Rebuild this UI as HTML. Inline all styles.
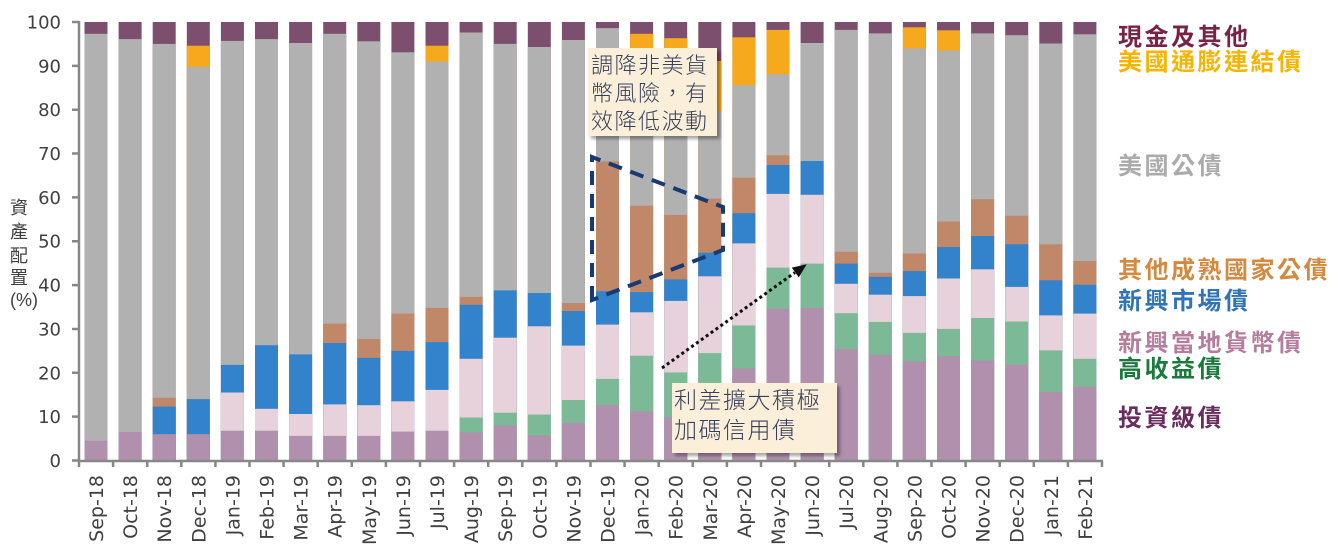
<!DOCTYPE html>
<html>
<head>
<meta charset="utf-8">
<style>
html,body{margin:0;padding:0;background:#fff;}
svg{display:block;}
.c{fill:#7d4f6f}.t{fill:#f6a91d}.u{fill:#b1b1b1}.d{fill:#c08769}.e{fill:#3283cb}.l{fill:#e7d2dc}.h{fill:#7cba97}.i{fill:#b190ad}
.tk{font-family:"DejaVu Sans","Liberation Sans",sans-serif;font-size:18px;fill:#404040;}
.xl{font-family:"DejaVu Sans","Liberation Sans",sans-serif;font-size:19px;fill:#404040;}
.lg{font-family:"Liberation Sans","Noto Sans CJK TC",sans-serif;font-size:24px;font-weight:bold;letter-spacing:2.5px;}
.an{font-family:"Liberation Sans","Noto Sans CJK TC",sans-serif;fill:#34405e;letter-spacing:1.5px;font-weight:300;}
.yt{font-family:"Liberation Sans","Noto Sans CJK TC",sans-serif;font-size:18px;fill:#404040;}
</style>
</head>
<body>
<svg width="1335" height="544" viewBox="0 0 1335 544" xmlns="http://www.w3.org/2000/svg">
<defs>
<filter id="sh" x="-10%" y="-10%" width="130%" height="140%">
<feDropShadow dx="3" dy="3" stdDeviation="1.5" flood-color="#000" flood-opacity="0.35"/>
</filter>
</defs>

<g id="bars">
<g transform="translate(84.5,0)"><rect class="c" x="0" y="22" width="23" height="438.5"/><rect class="u" x="0" y="33.8" width="23" height="426.7"/><rect class="i" x="0" y="440.8" width="23" height="19.7"/></g>
<g transform="translate(118.6,0)"><rect class="c" x="0" y="22" width="23" height="438.5"/><rect class="u" x="0" y="39.1" width="23" height="421.4"/><rect class="i" x="0" y="432.0" width="23" height="28.5"/></g>
<g transform="translate(152.7,0)"><rect class="c" x="0" y="22" width="23" height="438.5"/><rect class="u" x="0" y="43.9" width="23" height="416.6"/><rect class="d" x="0" y="397.8" width="23" height="62.7"/><rect class="e" x="0" y="406.6" width="23" height="53.9"/><rect class="i" x="0" y="434.2" width="23" height="26.3"/></g>
<g transform="translate(186.8,0)"><rect class="c" x="0" y="22" width="23" height="438.5"/><rect class="t" x="0" y="45.7" width="23" height="414.8"/><rect class="u" x="0" y="66.7" width="23" height="393.8"/><rect class="e" x="0" y="399.1" width="23" height="61.4"/><rect class="i" x="0" y="434.2" width="23" height="26.3"/></g>
<g transform="translate(220.9,0)"><rect class="c" x="0" y="22" width="23" height="438.5"/><rect class="u" x="0" y="40.9" width="23" height="419.6"/><rect class="e" x="0" y="364.9" width="23" height="95.6"/><rect class="l" x="0" y="392.5" width="23" height="68.0"/><rect class="i" x="0" y="430.7" width="23" height="29.8"/></g>
<g transform="translate(255.0,0)"><rect class="c" x="0" y="22" width="23" height="438.5"/><rect class="u" x="0" y="39.1" width="23" height="421.4"/><rect class="e" x="0" y="345.2" width="23" height="115.3"/><rect class="l" x="0" y="408.8" width="23" height="51.7"/><rect class="i" x="0" y="430.7" width="23" height="29.8"/></g>
<g transform="translate(289.1,0)"><rect class="c" x="0" y="22" width="23" height="438.5"/><rect class="u" x="0" y="43.0" width="23" height="417.5"/><rect class="e" x="0" y="354.4" width="23" height="106.1"/><rect class="l" x="0" y="414.0" width="23" height="46.5"/><rect class="i" x="0" y="435.9" width="23" height="24.6"/></g>
<g transform="translate(323.2,0)"><rect class="c" x="0" y="22" width="23" height="438.5"/><rect class="u" x="0" y="33.8" width="23" height="426.7"/><rect class="d" x="0" y="323.7" width="23" height="136.8"/><rect class="e" x="0" y="343.0" width="23" height="117.5"/><rect class="l" x="0" y="404.4" width="23" height="56.1"/><rect class="i" x="0" y="435.9" width="23" height="24.6"/></g>
<g transform="translate(357.3,0)"><rect class="c" x="0" y="22" width="23" height="438.5"/><rect class="u" x="0" y="41.3" width="23" height="419.2"/><rect class="d" x="0" y="339.0" width="23" height="121.5"/><rect class="e" x="0" y="357.9" width="23" height="102.6"/><rect class="l" x="0" y="405.2" width="23" height="55.3"/><rect class="i" x="0" y="435.9" width="23" height="24.6"/></g>
<g transform="translate(391.4,0)"><rect class="c" x="0" y="22" width="23" height="438.5"/><rect class="u" x="0" y="52.3" width="23" height="408.2"/><rect class="d" x="0" y="313.6" width="23" height="146.9"/><rect class="e" x="0" y="350.9" width="23" height="109.6"/><rect class="l" x="0" y="401.3" width="23" height="59.2"/><rect class="i" x="0" y="431.6" width="23" height="28.9"/></g>
<g transform="translate(425.5,0)"><rect class="c" x="0" y="22" width="23" height="438.5"/><rect class="t" x="0" y="45.7" width="23" height="414.8"/><rect class="u" x="0" y="61.5" width="23" height="399.0"/><rect class="d" x="0" y="307.9" width="23" height="152.6"/><rect class="e" x="0" y="342.1" width="23" height="118.4"/><rect class="l" x="0" y="389.9" width="23" height="70.6"/><rect class="i" x="0" y="430.7" width="23" height="29.8"/></g>
<g transform="translate(459.6,0)"><rect class="c" x="0" y="22" width="23" height="438.5"/><rect class="u" x="0" y="32.5" width="23" height="428.0"/><rect class="d" x="0" y="296.9" width="23" height="163.6"/><rect class="e" x="0" y="304.8" width="23" height="155.7"/><rect class="l" x="0" y="358.8" width="23" height="101.7"/><rect class="h" x="0" y="417.5" width="23" height="43.0"/><rect class="i" x="0" y="432.4" width="23" height="28.1"/></g>
<g transform="translate(493.7,0)"><rect class="c" x="0" y="22" width="23" height="438.5"/><rect class="u" x="0" y="43.9" width="23" height="416.6"/><rect class="e" x="0" y="290.4" width="23" height="170.1"/><rect class="l" x="0" y="337.7" width="23" height="122.8"/><rect class="h" x="0" y="412.7" width="23" height="47.8"/><rect class="i" x="0" y="425.4" width="23" height="35.1"/></g>
<g transform="translate(527.8,0)"><rect class="c" x="0" y="22" width="23" height="438.5"/><rect class="u" x="0" y="47.0" width="23" height="413.5"/><rect class="e" x="0" y="293.0" width="23" height="167.5"/><rect class="l" x="0" y="326.3" width="23" height="134.2"/><rect class="h" x="0" y="414.5" width="23" height="46.0"/><rect class="i" x="0" y="435.5" width="23" height="25.0"/></g>
<g transform="translate(561.9,0)"><rect class="c" x="0" y="22" width="23" height="438.5"/><rect class="u" x="0" y="40.0" width="23" height="420.5"/><rect class="d" x="0" y="303.1" width="23" height="157.4"/><rect class="e" x="0" y="311.0" width="23" height="149.5"/><rect class="l" x="0" y="345.6" width="23" height="114.9"/><rect class="h" x="0" y="400.0" width="23" height="60.5"/><rect class="i" x="0" y="422.8" width="23" height="37.7"/></g>
<g transform="translate(596.0,0)"><rect class="c" x="0" y="22" width="23" height="438.5"/><rect class="u" x="0" y="28.1" width="23" height="432.4"/><rect class="d" x="0" y="161.4" width="23" height="299.1"/><rect class="e" x="0" y="291.2" width="23" height="169.3"/><rect class="l" x="0" y="324.6" width="23" height="135.9"/><rect class="h" x="0" y="378.9" width="23" height="81.6"/><rect class="i" x="0" y="404.8" width="23" height="55.7"/></g>
<g transform="translate(630.1,0)"><rect class="c" x="0" y="22" width="23" height="438.5"/><rect class="t" x="0" y="33.8" width="23" height="426.7"/><rect class="u" x="0" y="50.5" width="23" height="410.0"/><rect class="d" x="0" y="205.7" width="23" height="254.8"/><rect class="e" x="0" y="292.1" width="23" height="168.4"/><rect class="l" x="0" y="312.3" width="23" height="148.2"/><rect class="h" x="0" y="355.7" width="23" height="104.8"/><rect class="i" x="0" y="411.4" width="23" height="49.1"/></g>
<g transform="translate(664.2,0)"><rect class="c" x="0" y="22" width="23" height="438.5"/><rect class="t" x="0" y="38.2" width="23" height="422.3"/><rect class="u" x="0" y="49.2" width="23" height="411.3"/><rect class="d" x="0" y="214.9" width="23" height="245.6"/><rect class="e" x="0" y="279.4" width="23" height="181.1"/><rect class="l" x="0" y="300.9" width="23" height="159.6"/><rect class="h" x="0" y="372.4" width="23" height="88.1"/><rect class="i" x="0" y="417.5" width="23" height="43.0"/></g>
<g transform="translate(698.3,0)"><rect class="c" x="0" y="22" width="23" height="438.5"/><rect class="t" x="0" y="61.0" width="23" height="399.5"/><rect class="u" x="0" y="111.0" width="23" height="349.5"/><rect class="d" x="0" y="198.7" width="23" height="261.8"/><rect class="e" x="0" y="252.7" width="23" height="207.8"/><rect class="l" x="0" y="276.3" width="23" height="184.2"/><rect class="h" x="0" y="353.1" width="23" height="107.4"/><rect class="i" x="0" y="399.1" width="23" height="61.4"/></g>
<g transform="translate(732.4,0)"><rect class="c" x="0" y="22" width="23" height="438.5"/><rect class="t" x="0" y="37.3" width="23" height="423.2"/><rect class="u" x="0" y="85.1" width="23" height="375.4"/><rect class="d" x="0" y="177.7" width="23" height="282.8"/><rect class="e" x="0" y="213.2" width="23" height="247.3"/><rect class="l" x="0" y="243.4" width="23" height="217.1"/><rect class="h" x="0" y="325.4" width="23" height="135.1"/><rect class="i" x="0" y="368.4" width="23" height="92.1"/></g>
<g transform="translate(766.5,0)"><rect class="c" x="0" y="22" width="23" height="438.5"/><rect class="t" x="0" y="29.9" width="23" height="430.6"/><rect class="u" x="0" y="74.2" width="23" height="386.3"/><rect class="d" x="0" y="155.3" width="23" height="305.2"/><rect class="e" x="0" y="165.0" width="23" height="295.5"/><rect class="l" x="0" y="193.9" width="23" height="266.6"/><rect class="h" x="0" y="267.6" width="23" height="192.9"/><rect class="i" x="0" y="308.8" width="23" height="151.7"/></g>
<g transform="translate(800.6,0)"><rect class="c" x="0" y="22" width="23" height="438.5"/><rect class="u" x="0" y="43.0" width="23" height="417.5"/><rect class="e" x="0" y="161.0" width="23" height="299.5"/><rect class="l" x="0" y="194.8" width="23" height="265.7"/><rect class="h" x="0" y="263.6" width="23" height="196.9"/><rect class="i" x="0" y="307.9" width="23" height="152.6"/></g>
<g transform="translate(834.7,0)"><rect class="c" x="0" y="22" width="23" height="438.5"/><rect class="u" x="0" y="29.9" width="23" height="430.6"/><rect class="d" x="0" y="251.8" width="23" height="208.7"/><rect class="e" x="0" y="263.6" width="23" height="196.9"/><rect class="l" x="0" y="283.8" width="23" height="176.7"/><rect class="h" x="0" y="313.2" width="23" height="147.3"/><rect class="i" x="0" y="349.1" width="23" height="111.4"/></g>
<g transform="translate(868.8,0)"><rect class="c" x="0" y="22" width="23" height="438.5"/><rect class="u" x="0" y="33.4" width="23" height="427.1"/><rect class="d" x="0" y="272.8" width="23" height="187.7"/><rect class="e" x="0" y="276.8" width="23" height="183.7"/><rect class="l" x="0" y="294.7" width="23" height="165.8"/><rect class="h" x="0" y="321.9" width="23" height="138.6"/><rect class="i" x="0" y="354.8" width="23" height="105.7"/></g>
<g transform="translate(902.9,0)"><rect class="c" x="0" y="22" width="23" height="438.5"/><rect class="t" x="0" y="27.3" width="23" height="433.2"/><rect class="u" x="0" y="48.3" width="23" height="412.2"/><rect class="d" x="0" y="253.5" width="23" height="207.0"/><rect class="e" x="0" y="271.1" width="23" height="189.4"/><rect class="l" x="0" y="296.1" width="23" height="164.4"/><rect class="h" x="0" y="332.9" width="23" height="127.6"/><rect class="i" x="0" y="361.4" width="23" height="99.1"/></g>
<g transform="translate(937.0,0)"><rect class="c" x="0" y="22" width="23" height="438.5"/><rect class="t" x="0" y="30.3" width="23" height="430.2"/><rect class="u" x="0" y="50.5" width="23" height="410.0"/><rect class="d" x="0" y="221.5" width="23" height="239.0"/><rect class="e" x="0" y="247.0" width="23" height="213.5"/><rect class="l" x="0" y="278.5" width="23" height="182.0"/><rect class="h" x="0" y="328.9" width="23" height="131.6"/><rect class="i" x="0" y="356.1" width="23" height="104.4"/></g>
<g transform="translate(971.1,0)"><rect class="c" x="0" y="22" width="23" height="438.5"/><rect class="u" x="0" y="33.4" width="23" height="427.1"/><rect class="d" x="0" y="199.2" width="23" height="261.3"/><rect class="e" x="0" y="236.0" width="23" height="224.5"/><rect class="l" x="0" y="269.3" width="23" height="191.2"/><rect class="h" x="0" y="318.0" width="23" height="142.5"/><rect class="i" x="0" y="360.5" width="23" height="100.0"/></g>
<g transform="translate(1005.2,0)"><rect class="c" x="0" y="22" width="23" height="438.5"/><rect class="u" x="0" y="35.2" width="23" height="425.3"/><rect class="d" x="0" y="215.8" width="23" height="244.7"/><rect class="e" x="0" y="244.3" width="23" height="216.2"/><rect class="l" x="0" y="286.9" width="23" height="173.6"/><rect class="h" x="0" y="321.5" width="23" height="139.0"/><rect class="i" x="0" y="364.5" width="23" height="96.0"/></g>
<g transform="translate(1039.3,0)"><rect class="c" x="0" y="22" width="23" height="438.5"/><rect class="u" x="0" y="43.5" width="23" height="417.0"/><rect class="d" x="0" y="244.3" width="23" height="216.2"/><rect class="e" x="0" y="280.3" width="23" height="180.2"/><rect class="l" x="0" y="315.4" width="23" height="145.1"/><rect class="h" x="0" y="350.4" width="23" height="110.1"/><rect class="i" x="0" y="391.7" width="23" height="68.8"/></g>
<g transform="translate(1073.4,0)"><rect class="c" x="0" y="22" width="23" height="438.5"/><rect class="u" x="0" y="34.3" width="23" height="426.2"/><rect class="d" x="0" y="261.0" width="23" height="199.5"/><rect class="e" x="0" y="284.7" width="23" height="175.8"/><rect class="l" x="0" y="313.6" width="23" height="146.9"/><rect class="h" x="0" y="358.8" width="23" height="101.7"/><rect class="i" x="0" y="386.8" width="23" height="73.7"/></g>
</g>

<g stroke="#878787" stroke-width="2.5" fill="none">
<line x1="79" y1="21" x2="79" y2="462"/>
<line x1="78" y1="461" x2="1103" y2="461"/>
<path d="M72 460.5H79M72 416.65H79M72 372.8H79M72 328.95H79M72 285.1H79M72 241.25H79M72 197.4H79M72 153.55H79M72 109.7H79M72 65.85H79M72 22H79"/>
<path d="M79 461V467M113.1 461V467M147.2 461V467M181.3 461V467M215.4 461V467M249.5 461V467M283.6 461V467M317.7 461V467M351.8 461V467M385.9 461V467M420 461V467M454.1 461V467M488.2 461V467M522.3 461V467M556.4 461V467M590.5 461V467M624.6 461V467M658.7 461V467M692.8 461V467M726.9 461V467M761 461V467M795.1 461V467M829.2 461V467M863.3 461V467M897.4 461V467M931.5 461V467M965.6 461V467M999.7 461V467M1033.8 461V467M1067.9 461V467M1102 461V467"/>
</g>

<g class="tk" text-anchor="end">
<text x="61" y="28.5">100</text>
<text x="61" y="72.3">90</text>
<text x="61" y="116.2">80</text>
<text x="61" y="160">70</text>
<text x="61" y="203.9">60</text>
<text x="61" y="247.7">50</text>
<text x="61" y="291.6">40</text>
<text x="61" y="335.4">30</text>
<text x="61" y="379.3">20</text>
<text x="61" y="423.1">10</text>
<text x="61" y="467">0</text>
</g>

<g class="yt" text-anchor="middle">
<text x="19" y="214">資</text>
<text x="19" y="238">產</text>
<text x="19" y="262">配</text>
<text x="19" y="284">置</text>
<text x="24" y="306">(%)</text>
</g>

<g class="xl" text-anchor="end">
<text transform="translate(103,475) rotate(-90)">Sep-18</text>
<text transform="translate(137.1,475) rotate(-90)">Oct-18</text>
<text transform="translate(171.2,475) rotate(-90)">Nov-18</text>
<text transform="translate(205.3,475) rotate(-90)">Dec-18</text>
<text transform="translate(239.4,475) rotate(-90)">Jan-19</text>
<text transform="translate(273.5,475) rotate(-90)">Feb-19</text>
<text transform="translate(307.6,475) rotate(-90)">Mar-19</text>
<text transform="translate(341.7,475) rotate(-90)">Apr-19</text>
<text transform="translate(375.8,475) rotate(-90)">May-19</text>
<text transform="translate(409.9,475) rotate(-90)">Jun-19</text>
<text transform="translate(444,475) rotate(-90)">Jul-19</text>
<text transform="translate(478.1,475) rotate(-90)">Aug-19</text>
<text transform="translate(512.2,475) rotate(-90)">Sep-19</text>
<text transform="translate(546.3,475) rotate(-90)">Oct-19</text>
<text transform="translate(580.4,475) rotate(-90)">Nov-19</text>
<text transform="translate(614.5,475) rotate(-90)">Dec-19</text>
<text transform="translate(648.6,475) rotate(-90)">Jan-20</text>
<text transform="translate(682.7,475) rotate(-90)">Feb-20</text>
<text transform="translate(716.8,475) rotate(-90)">Mar-20</text>
<text transform="translate(750.9,475) rotate(-90)">Apr-20</text>
<text transform="translate(785,475) rotate(-90)">May-20</text>
<text transform="translate(819.1,475) rotate(-90)">Jun-20</text>
<text transform="translate(853.2,475) rotate(-90)">Jul-20</text>
<text transform="translate(887.3,475) rotate(-90)">Aug-20</text>
<text transform="translate(921.4,475) rotate(-90)">Sep-20</text>
<text transform="translate(955.5,475) rotate(-90)">Oct-20</text>
<text transform="translate(989.6,475) rotate(-90)">Nov-20</text>
<text transform="translate(1023.7,475) rotate(-90)">Dec-20</text>
<text transform="translate(1057.8,475) rotate(-90)">Jan-21</text>
<text transform="translate(1091.9,475) rotate(-90)">Feb-21</text>
</g>

<path d="M592 300 L592 157 L723 207 L723 250 Z" fill="none" stroke="#173a72" stroke-width="4" stroke-dasharray="14 9"/>

<line x1="662" y1="368" x2="795" y2="272.5" stroke="#111" stroke-width="3" stroke-dasharray="3 3"/>
<polygon points="806.7,264.3 798.8,277.4 791.8,267.6" fill="#111"/>

<rect x="588" y="48" width="129" height="88" fill="#fcefd9" filter="url(#sh)"/>
<g class="an" font-size="22">
<text x="591" y="73">調降非美貨</text>
<text x="591" y="101">幣風險，有</text>
<text x="591" y="129">效降低波動</text>
</g>

<rect x="672" y="383" width="165" height="70" fill="#fcefd9" filter="url(#sh)"/>
<g class="an" font-size="23">
<text x="674" y="408">利差擴大積極</text>
<text x="674" y="438">加碼信用債</text>
</g>

<g class="lg">
<text x="1118" y="45" fill="#7a2246">現金及其他</text>
<text x="1118" y="70" fill="#f4b400">美國通膨連結債</text>
<text x="1118" y="174" fill="#ababab">美國公債</text>
<text x="1118" y="278" fill="#d38a40">其他成熟國家公債</text>
<text x="1118" y="309" fill="#2f74b5">新興市場債</text>
<text x="1118" y="351" fill="#b57c9d">新興當地貨幣債</text>
<text x="1118" y="377" fill="#1a7a3c">高收益債</text>
<text x="1118" y="426" fill="#6b2d5f">投資級債</text>
</g>
</svg>
</body>
</html>
